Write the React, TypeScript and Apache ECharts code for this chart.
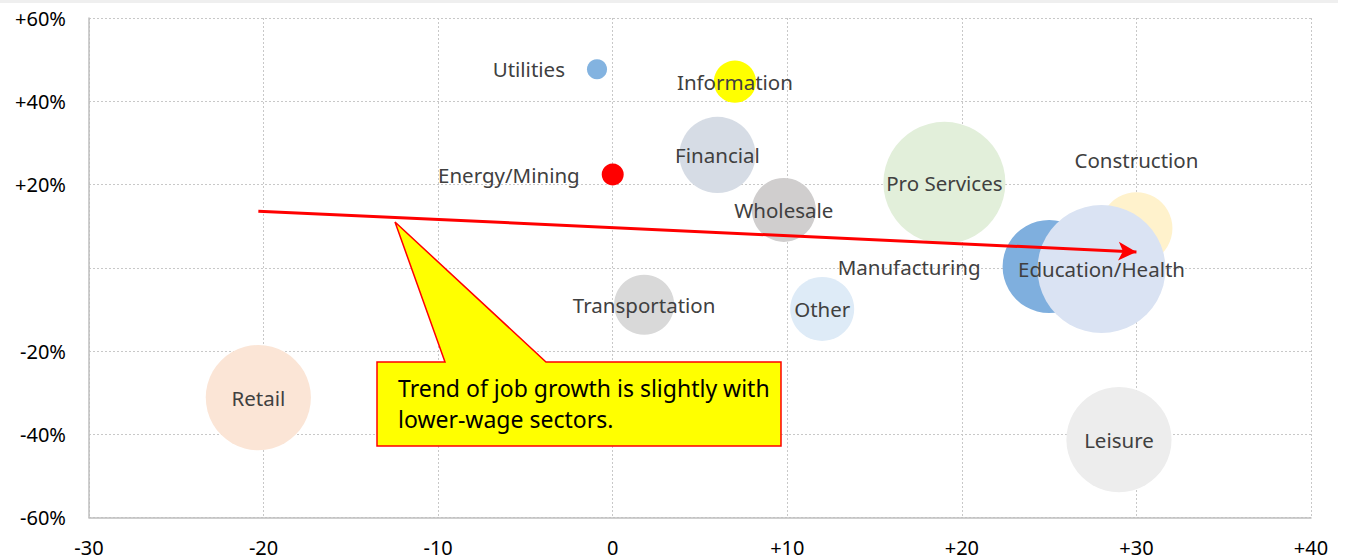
import React, { useEffect, useRef } from "react";
import * as echarts from "echarts";

// ---- data ----
const sectors = [
  "Retail",
  "Leisure",
  "Transportation",
  "Other",
  "Wholesale",
  "Financial",
  "Pro Services",
  "Construction",
  "Manufacturing",
  "Education/Health",
  "Utilities",
  "Information",
  "Energy/Mining",
];
const xValues = [-20.3, 29.0, 1.8, 12.0, 9.8, 6.0, 19.0, 30.0, 25.0, 28.0, -0.9, 7.0, 0.0];
const yValues = [-31.2, -41.3, -8.9, -9.9, 13.9, 27.1, 20.4, 9.5, 0.3, -0.3, 47.7, 44.7, 22.4];
const bubbleSizes = [16.2, 16.2, 5.3, 6.0, 6.0, 8.5, 21.8, 7.6, 12.7, 24.0, 0.59, 2.6, 0.71];
const sectorColors = [
  "#FBE5D6",
  "#EDEDED",
  "#D9D9D9",
  "#DEEBF7",
  "#D0CECE",
  "#D6DCE5",
  "#E2EFDA",
  "#FFF2CC",
  "#7FAFDE",
  "#DAE3F3",
  "#83B3E0",
  "#FFFF00",
  "#FF0000",
];
const labelPositions = [
  "inside",
  "inside",
  "inside",
  "inside",
  "inside",
  "inside",
  "inside",
  "top",
  "left",
  "inside",
  "left",
  "inside",
  "left",
];
const trendStart = [-20.3, 13.6];
const trendEnd = [30.0, 3.8];
const xTicks = [-30, -20, -10, 0, 10, 20, 30, 40];
const yTicks = [-60, -40, -20, 0, 20, 40, 60];
const calloutText = "Trend of job growth is slightly with\nlower-wage sectors.";

const FONT = '"Noto Sans", "Open Sans", sans-serif';

export default function App() {
  const ref = useRef<HTMLDivElement>(null);

  useEffect(() => {
    if (!ref.current) return;
    const chart = echarts.init(ref.current, undefined, { renderer: "svg" });
    const maxSize = Math.max(...bubbleSizes);
    const maxRadius = 64;

    const data = sectors.map((name, i) => ({
      name,
      value: [xValues[i], yValues[i], bubbleSizes[i]],
      itemStyle: { color: sectorColors[i], opacity: 1 },
      label: {
        position: labelPositions[i],
        distance: labelPositions[i] === "inside" ? 0 : 22,
      },
    }));

    chart.setOption({
      animation: false,
      backgroundColor: "#ffffff",
      grid: { left: 89, right: 34, top: 18, bottom: 42.5, containLabel: false },
      xAxis: {
        type: "value",
        min: xTicks[0],
        max: xTicks[xTicks.length - 1],
        interval: 10,
        axisLine: { show: true, onZero: false, lineStyle: { color: "#BFBFBF", width: 1.5 } },
        axisTick: { show: false },
        splitLine: { show: true, lineStyle: { color: "#C8C8C8", type: [2, 2], width: 1 } },
        axisLabel: {
          color: "#000",
          fontSize: 20,
          fontFamily: FONT,
          margin: 20,
          formatter: (v: number) => (v > 0 ? "+" + v : "" + v),
        },
      },
      yAxis: {
        type: "value",
        min: yTicks[0],
        max: yTicks[yTicks.length - 1],
        interval: 20,
        axisLine: { show: true, onZero: false, lineStyle: { color: "#BFBFBF", width: 1.5 } },
        axisTick: { show: false },
        splitLine: { show: true, lineStyle: { color: "#C8C8C8", type: [2, 2], width: 1 } },
        axisLabel: {
          color: "#000",
          fontSize: 20,
          fontFamily: FONT,
          margin: 23,
          formatter: (v: number) => (v === 0 ? "" : v > 0 ? "+" + v + "%" : v + "%"),
        },
      },
      series: [
        {
          type: "scatter",
          data,
          symbolSize: (val: number[]) => 2 * maxRadius * Math.sqrt(val[2] / maxSize),
          itemStyle: { opacity: 1 },
          label: {
            show: true,
            formatter: "{b}",
            color: "#404040",
            fontSize: 20.5,
            fontFamily: FONT,
          },
          emphasis: { disabled: true },
          silent: true,
          z: 2,
        },
        {
          type: "line",
          data: [],
          silent: true,
          z: 5,
          markLine: {
            silent: true,
            symbol: ["none", "arrow"],
            symbolSize: [14, 18],
            label: { show: false },
            lineStyle: { color: "#FF0000", width: 3, type: "solid", opacity: 1 },
            emphasis: { disabled: true },
            data: [[{ coord: trendStart }, { coord: trendEnd }]],
          },
        },
      ],
      graphic: [
        {
          type: "rect",
          shape: { x: 0, y: 0, width: 1338, height: 3 },
          style: { fill: "#EFEFEF" },
          z: 10,
        },
        {
          type: "polygon",
          shape: {
            points: [
              [377, 362],
              [445, 362],
              [395, 222],
              [546, 362],
              [781, 362],
              [781, 446],
              [377, 446],
            ],
          },
          style: { fill: "#FFFF00", stroke: "#FF0000", lineWidth: 1.5 },
          z: 20,
        },
        {
          type: "text",
          x: 398,
          y: 372.5,
          style: {
            text: calloutText,
            font: '23px "Noto Sans", "Open Sans", sans-serif',
            fill: "#000",
            lineHeight: 31,
            verticalAlign: "top",
            align: "left",
          },
          z: 21,
        },
      ],
    });

    return () => chart.dispose();
  }, []);

  return (
    <div
      ref={ref}
      style={{ position: "absolute", left: 0, top: 0, width: 1345, height: 560, background: "#fff" }}
    />
  );
}
